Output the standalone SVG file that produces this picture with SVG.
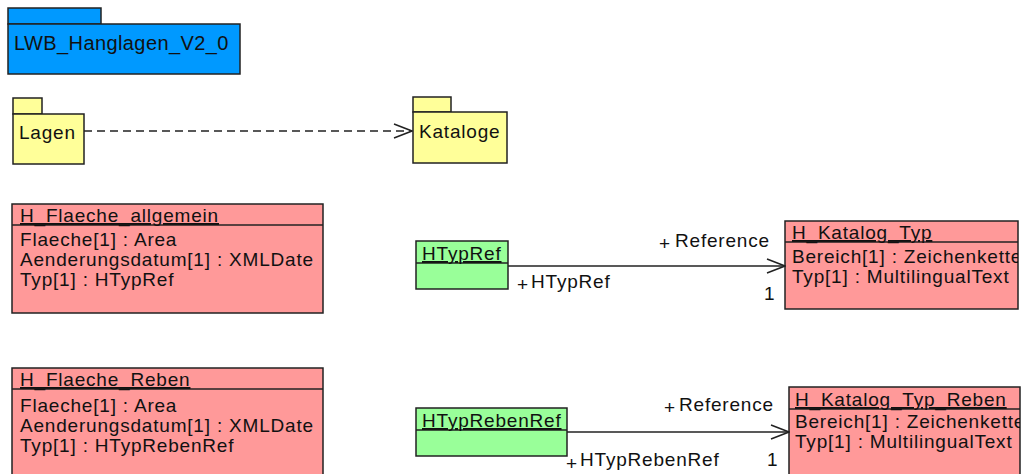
<svg xmlns="http://www.w3.org/2000/svg" width="1025" height="474" viewBox="0 0 1025 474">
<style>
.b{stroke:#222;stroke-width:1.5}
.pk{fill:#0099ff}
.y{fill:#ffff99}
.r{fill:#ff9999}
.g{fill:#99ff99}
text{font-family:"Liberation Sans",Arial,sans-serif;font-size:19px;fill:#111;letter-spacing:0.8px}
.u{text-decoration:underline}
.p{font-size:19px;letter-spacing:0}
.ln{stroke:#222;stroke-width:1.5;fill:none}
</style>
<defs>
<marker id="open" markerUnits="userSpaceOnUse" markerWidth="20" markerHeight="16" refX="19" refY="8" orient="auto">
<path d="M1,1 L19,8 L1,15" fill="none" stroke="#222" stroke-width="1.5"/>
</marker>
<clipPath id="c1"><rect x="785" y="221" width="233" height="90"/></clipPath>
<clipPath id="c2"><rect x="789" y="387" width="231" height="90"/></clipPath>
</defs>

<g id="LWB_Hanglagen_V2_0">
<rect class="b pk" x="8" y="8" width="93" height="16"/>
<rect class="b pk" x="8" y="24" width="232" height="50"/>
<text x="14" y="50" style="font-size:20px;letter-spacing:0.4px">LWB_Hanglagen_V2_0</text>
</g>

<g id="Lagen">
<rect class="b y" x="13" y="98" width="29" height="16"/>
<rect class="b y" x="13" y="114" width="71" height="50"/>
<text x="19" y="139">Lagen</text>
</g>

<g id="Kataloge">
<rect class="b y" x="413" y="97" width="38" height="15"/>
<rect class="b y" x="413" y="112" width="94" height="51"/>
<text x="419" y="138">Kataloge</text>
</g>

<g id="H_Flaeche_allgemein">
<rect class="b r" x="12" y="204" width="311" height="109"/>
<line class="b" x1="12" y1="225" x2="323" y2="225"/>
<text class="u" x="20" y="222">H_Flaeche_allgemein</text>
<text x="20" y="246">Flaeche[1] : Area</text>
<text x="20" y="266">Aenderungsdatum[1] : XMLDate</text>
<text x="20" y="286">Typ[1] : HTypRef</text>
</g>

<g id="H_Flaeche_Reben">
<rect class="b r" x="12" y="368" width="311" height="120"/>
<line class="b" x1="12" y1="389" x2="323" y2="389"/>
<text class="u" x="20" y="386">H_Flaeche_Reben</text>
<text x="20" y="412">Flaeche[1] : Area</text>
<text x="20" y="432">Aenderungsdatum[1] : XMLDate</text>
<text x="20" y="452">Typ[1] : HTypRebenRef</text>
</g>

<g id="HTypRef">
<rect class="b g" x="416" y="241" width="92" height="48"/>
<line class="b" x1="416" y1="263" x2="508" y2="263"/>
<text class="u" x="422" y="260">HTypRef</text>
</g>

<g id="HTypRebenRef">
<rect class="b g" x="416" y="408" width="151" height="48"/>
<line class="b" x1="416" y1="430" x2="567" y2="430"/>
<text class="u" x="422" y="427">HTypRebenRef</text>
</g>

<g id="H_Katalog_Typ">
<rect class="b r" x="785" y="221" width="233" height="88"/>
<line class="b" x1="785" y1="242" x2="1018" y2="242"/>
<g clip-path="url(#c1)">
<text class="u" x="792" y="239">H_Katalog_Typ</text>
<text x="792" y="263">Bereich[1] : Zeichenkette</text>
<text x="792" y="283">Typ[1] : MultilingualText</text>
</g>
</g>

<g id="H_Katalog_Typ_Reben">
<rect class="b r" x="789" y="387" width="231" height="100"/>
<line class="b" x1="789" y1="409" x2="1020" y2="409"/>
<g clip-path="url(#c2)">
<text class="u" x="795" y="406">H_Katalog_Typ_Reben</text>
<text x="795" y="428">Bereich[1] : Zeichenkette</text>
<text x="795" y="448">Typ[1] : MultilingualText</text>
</g>
</g>

<g id="connectors">
<line class="ln" x1="84" y1="131" x2="412" y2="131" stroke-dasharray="8,5" marker-end="url(#open)"/>
<line class="ln" x1="508" y1="266" x2="785" y2="266" marker-end="url(#open)"/>
<text class="p" x="659" y="250">+</text>
<text x="675" y="247">Reference</text>
<text class="p" x="517" y="291">+</text>
<text x="531" y="288">HTypRef</text>
<text x="764" y="300">1</text>
<line class="ln" x1="567" y1="432" x2="789" y2="432" marker-end="url(#open)"/>
<text class="p" x="664" y="414">+</text>
<text x="679" y="411">Reference</text>
<text class="p" x="566" y="470">+</text>
<text x="580" y="466">HTypRebenRef</text>
<text x="767" y="466">1</text>
</g>
</svg>
